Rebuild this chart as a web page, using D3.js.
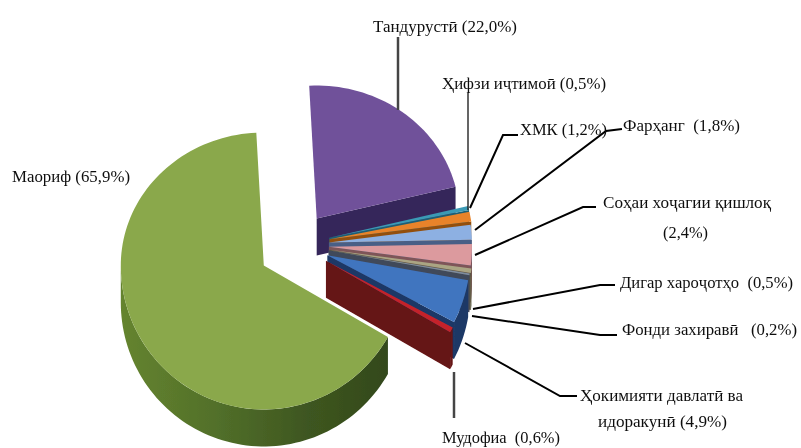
<!DOCTYPE html>
<html>
<head>
<meta charset="utf-8">
<script src="https://cdn.jsdelivr.net/npm/d3@7"></script>
<style>
  html, body { margin: 0; padding: 0; background: #fff; }
  text { font-family: "Liberation Serif", serif; font-size: 16px; fill: #111; }
</style>
</head>
<body>
<svg id="chart" width="801" height="448"></svg>
<script>
// order is clockwise from the top of the pie
var sectors = ["Тандурустӣ", "Ҳифзи иҷтимоӣ", "ХМК", "Фарҳанг", "Соҳаи хоҷагии қишлоқ", "Дигар хароҷотҳо", "Фонди захиравӣ", "Ҳокимияти давлатӣ ва идоракунӣ", "Мудофиа", "Маориф"];
var shares = [22.0, 0.5, 1.2, 1.8, 2.4, 0.5, 0.2, 4.9, 0.6, 65.9];
var topColors = ["#70519a", "#3a9ab5", "#e8832a", "#8db0e2", "#dc9a9e", "#aaa583", "#7d8ba0", "#3f75bf", "#c4242c", "#8aa84b"];
var wallColors = ["#36275a", "#1d5f74", "#93500f", "#4a5f86", "#7e5558", "#5d5a42", "#40485a", "#1c3766", "#651313", "url(#greenWall)"];
var explode = [33, 33, 33, 32, 32, 33, 32, 32, 33, 39];

var labelRows = [
  ["Тандурустӣ (22,0%)", 373, 32, 144],
  ["Ҳифзи иҷтимоӣ (0,5%)", 442, 89, 164],
  ["ХМК (1,2%)", 520, 135, 87],
  ["Фарҳанг  (1,8%)", 623, 131, 117],
  ["Соҳаи хоҷагии қишлоқ", 603, 208, 168],
  ["(2,4%)", 663, 238, 45],
  ["Дигар хароҷотҳо  (0,5%)", 620, 288, 173],
  ["Фонди захиравӣ   (0,2%)", 622, 335, 175],
  ["Ҳокимияти давлатӣ ва", 580, 401, 163],
  ["идоракунӣ (4,9%)", 598, 427, 129],
  ["Мудофиа  (0,6%)", 442, 443, 118],
  ["Маориф (65,9%)", 12, 182, 118]
];

var leaders = [
  {color: "#444", w: 2.5, pts: [[398, 37], [398, 110]]},
  {color: "#222", w: 1.4, pts: [[468, 93], [468, 210]]},
  {color: "#000", w: 2, pts: [[470, 208], [503, 135], [518, 135]]},
  {color: "#000", w: 2, pts: [[475, 230], [606, 131], [622, 129]]},
  {color: "#000", w: 2, pts: [[475, 255], [583, 207], [596, 207]]},
  {color: "#000", w: 2, pts: [[473, 309], [600, 285], [615, 285]]},
  {color: "#000", w: 2, pts: [[472, 316], [600, 335], [617, 335]]},
  {color: "#000", w: 2, pts: [[465, 343], [560, 396], [577, 396]]},
  {color: "#444", w: 2.5, pts: [[454, 372], [454, 418]]}
];

var svg = d3.select("#chart");
var cx = 297, cy = 245, rx = 143, ryBack = 133, ryFront = 144, depth = 37;
var rad = Math.PI / 180;

var defs = svg.append("defs");
var grad = defs.append("linearGradient").attr("id", "greenWall");
grad.append("stop").attr("offset", "0%").attr("stop-color", "#65842f");
grad.append("stop").attr("offset", "35%").attr("stop-color", "#52702a");
grad.append("stop").attr("offset", "70%").attr("stop-color", "#3e5620");
grad.append("stop").attr("offset", "100%").attr("stop-color", "#33491b");
defs.append("filter").attr("id", "soft").append("feGaussianBlur").attr("stdDeviation", 0.6);

var arcs = d3.pie().sort(null).value(function(d) { return d; })
  .startAngle(-3 * rad).endAngle(357 * rad)(shares);

var line = d3.line();
var root = svg.append("g").attr("filter", "url(#soft)");

// point on the tilted pie, a measured clockwise from north
// near half comes out a bit bigger than the far half (perspective)
function project(a, r, ox, oy) {
  var c = Math.cos(a);
  return [cx + ox + rx * r * Math.sin(a), cy + oy - (c > 0 ? ryBack : ryFront) * r * c];
}

function arcPoints(a0, a1, ox, oy, drop) {
  var n = Math.max(2, Math.ceil((a1 - a0) / (rad * 2)));
  return d3.range(n + 1).map(function(i) {
    var p = project(a0 + (a1 - a0) * i / n, 1, ox, oy);
    return [p[0], p[1] + drop];
  });
}

arcs.forEach(function(d, i) {
  var mid = (d.startAngle + d.endAngle) / 2;
  var ox = explode[i] * Math.sin(mid), oy = -explode[i] * Math.cos(mid);
  var apex = [cx + ox, cy + oy];
  var g = root.append("g").attr("class", "slice").attr("data-name", sectors[i]);

  // flat cut face on the trailing side, not visible for the big green slice
  if (i < arcs.length - 1) {
    var e = project(d.endAngle, 1, ox, oy);
    g.append("path")
      .attr("d", line([apex, e, [e[0], e[1] + depth], [apex[0], apex[1] + depth]]) + "Z")
      .attr("fill", wallColors[i]);
  }

  // rim, only the part that faces the viewer
  var a0 = Math.max(d.startAngle, 90 * rad), a1 = Math.min(d.endAngle, 270 * rad);
  if (a1 > a0) {
    var upper = arcPoints(a0, a1, ox, oy, 0);
    var lower = arcPoints(a0, a1, ox, oy, depth).reverse();
    g.append("path").attr("d", line(upper.concat(lower)) + "Z").attr("fill", wallColors[i]);
  }

  g.append("path")
    .attr("d", line([apex].concat(arcPoints(d.startAngle, d.endAngle, ox, oy, 0))) + "Z")
    .attr("fill", topColors[i]);
});

root.selectAll(".leader").data(leaders).enter().append("path")
  .attr("class", "leader")
  .attr("d", function(d) { return line(d.pts); })
  .attr("fill", "none")
  .attr("stroke", function(d) { return d.color; })
  .attr("stroke-width", function(d) { return d.w; });

root.selectAll(".lbl").data(labelRows).enter().append("text")
  .attr("class", "lbl")
  .attr("x", function(d) { return d[1]; })
  .attr("y", function(d) { return d[2]; })
  .attr("textLength", function(d) { return d[3]; })
  .attr("lengthAdjust", "spacingAndGlyphs")
  .attr("xml:space", "preserve")
  .text(function(d) { return d[0]; });
</script>
</body>
</html>
